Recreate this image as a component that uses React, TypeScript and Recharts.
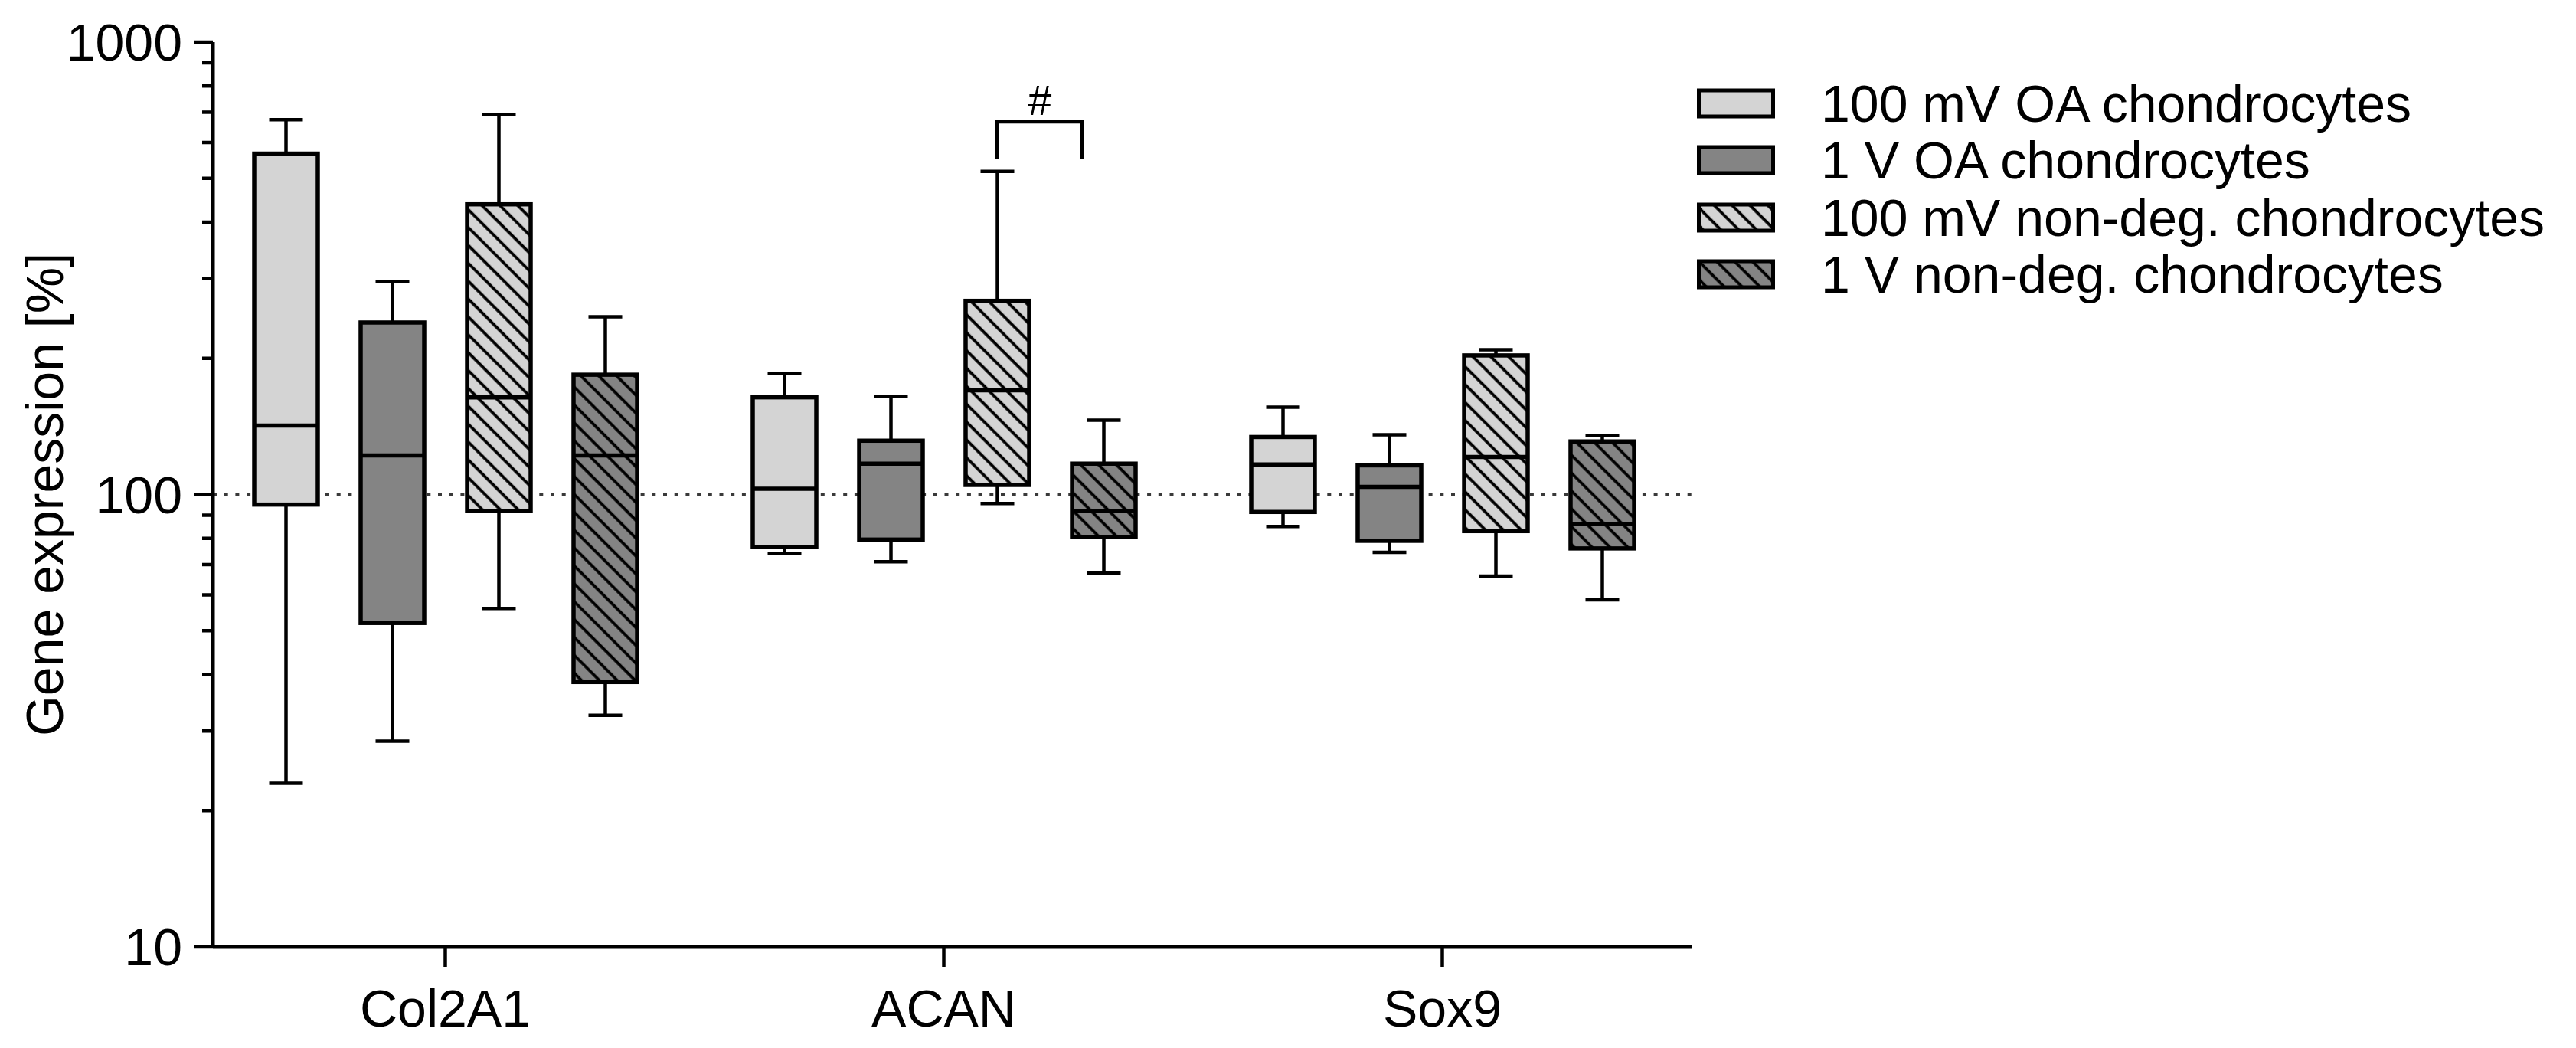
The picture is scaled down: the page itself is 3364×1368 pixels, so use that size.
import { BarChart, Bar, XAxis, YAxis, ReferenceLine } from "recharts";

// five-number summaries per gene: [min, Q1, median, Q3, max]
const categories = ["Col2A1", "ACAN", "Sox9"];

const oa100mV = [
  [23, 95, 142, 567, 674],
  [74, 76.5, 103, 164, 185],
  [85, 91.5, 116.5, 134, 156],
];
const oa1V = [
  [28.5, 52, 122, 240, 296],
  [71, 79.5, 117, 131.5, 164.5],
  [74.5, 79, 104, 116, 135.5],
];
const nonDeg100mV = [
  [56, 92, 164, 438, 692],
  [95.5, 105, 170, 268, 518],
  [66, 83, 121, 203, 209],
];
const nonDeg1V = [
  [32.5, 38.5, 122, 184, 247],
  [67, 80.5, 92, 117, 146],
  [58.5, 76, 86, 131, 135],
];

const seriesNames = [
  "100 mV OA chondrocytes",
  "1 V OA chondrocytes",
  "100 mV non-deg. chondrocytes",
  "1 V non-deg. chondrocytes",
];

const yTicks = [10, 20, 30, 40, 50, 60, 70, 80, 90, 100, 200, 300, 400, 500, 600, 700, 800, 900, 1000];
const yMajor = [10, 100, 1000];

// significance bracket: between series `from` and `to` in one category
const brackets = [{ category: "ACAN", from: 2, to: 3, top: 667, legBottom: 553, label: "#" }];

const LIGHT = "#d4d4d4";
const DARK = "#848484";
const styles = [
  { fill: LIGHT, hatch: false },
  { fill: DARK, hatch: false },
  { fill: LIGHT, hatch: true },
  { fill: DARK, hatch: true },
];

const FONT = '"Liberation Sans", Arial, sans-serif';
const BAR_SIZE = 83;
const BAR_GAP = 56;

const rows = categories.map((category, i) => ({
  category,
  stats: [oa100mV[i], oa1V[i], nonDeg100mV[i], nonDeg1V[i]],
}));

function HatchDef({ id, bg }: { id: string; bg: string }) {
  return (
    <defs>
      <pattern id={id} patternUnits="userSpaceOnUse" width={16.5} height={16.5} patternTransform="rotate(-45)">
        <rect width={16.5} height={16.5} fill={bg} />
        <line x1={8} y1={-1} x2={8} y2={17.5} stroke="#000" strokeWidth={3.8} />
      </pattern>
    </defs>
  );
}

function BoxShape(props: any) {
  const { x, y, width, height, payload, index, seriesIndex } = props;
  const s = payload.stats[seriesIndex];
  const lo = Math.log10(s[0]);
  const hi = Math.log10(s[4]);
  // bar spans min..max on the log axis; map other values the same way
  const toPx = (v: number) => y + ((hi - Math.log10(v)) / (hi - lo)) * height;
  const cx = x + width / 2;
  const capHalf = 22;
  const st = styles[seriesIndex];
  const pid = `hatch-${seriesIndex}-${index}`;
  const q1 = toPx(s[1]);
  const med = toPx(s[2]);
  const q3 = toPx(s[3]);
  const yMin = toPx(s[0]);
  const yMax = toPx(s[4]);

  const br = brackets.find((b) => b.category === payload.category && b.from === seriesIndex);
  let bracket = null;
  if (br) {
    const x1 = cx;
    const x2 = cx + (br.to - br.from) * (BAR_SIZE + BAR_GAP) - 28;
    const yt = toPx(br.top);
    const yb = toPx(br.legBottom);
    bracket = (
      <g>
        <path d={`M${x1},${yb} L${x1},${yt} L${x2},${yt} L${x2},${yb}`} fill="none" stroke="#000" strokeWidth={5} />
        <text x={(x1 + x2) / 2} y={yt - 9} textAnchor="middle" fontSize={55} fontFamily={FONT} fill="#000">
          {br.label}
        </text>
      </g>
    );
  }

  return (
    <g>
      {st.hatch && <HatchDef id={pid} bg={st.fill} />}
      <line x1={cx} x2={cx} y1={yMax} y2={q3} stroke="#000" strokeWidth={4.5} />
      <line x1={cx - capHalf} x2={cx + capHalf} y1={yMax} y2={yMax} stroke="#000" strokeWidth={4.5} />
      <line x1={cx} x2={cx} y1={q1} y2={yMin} stroke="#000" strokeWidth={4.5} />
      <line x1={cx - capHalf} x2={cx + capHalf} y1={yMin} y2={yMin} stroke="#000" strokeWidth={4.5} />
      <rect
        x={x}
        y={q3}
        width={width}
        height={q1 - q3}
        fill={st.hatch ? `url(#${pid})` : st.fill}
        stroke="#000"
        strokeWidth={5.5}
      />
      <line x1={x} x2={x + width} y1={med} y2={med} stroke="#000" strokeWidth={5.5} />
      {bracket}
    </g>
  );
}

function YTick(props: any) {
  const { x, y, payload } = props;
  const major = yMajor.includes(payload.value);
  return (
    <g>
      <line x1={x - (major ? 25 : 14)} x2={x} y1={y} y2={y} stroke="#000" strokeWidth={4.5} />
      {major && (
        <text x={x - 40} y={y} dy="0.36em" textAnchor="end" fontSize={68} fontFamily={FONT} fill="#000">
          {payload.value}
        </text>
      )}
    </g>
  );
}

function XTick(props: any) {
  const { x, y, payload } = props;
  return (
    <g>
      <line x1={x} x2={x} y1={y} y2={y + 26} stroke="#000" strokeWidth={4.5} />
      <text x={x} y={y + 104} textAnchor="middle" fontSize={68} fontFamily={FONT} fill="#000">
        {payload.value}
      </text>
    </g>
  );
}

function YLabel(props: any) {
  const { viewBox } = props;
  const cy = viewBox.y + viewBox.height / 2;
  return (
    <text
      x={82}
      y={cy}
      transform={`rotate(-90, 82, ${cy})`}
      textAnchor="middle"
      fontSize={68}
      fontFamily={FONT}
      fill="#000"
    >
      Gene expression [%]
    </text>
  );
}

function Legend() {
  const rowsY = [135, 209, 284, 358];
  return (
    <svg width={1148} height={420} style={{ position: "absolute", left: 2216, top: 0 }}>
      {seriesNames.map((name, i) => {
        const st = styles[i];
        const pid = `legend-hatch-${i}`;
        return (
          <g key={name}>
            {st.hatch && <HatchDef id={pid} bg={st.fill} />}
            <rect
              x={2.5}
              y={rowsY[i] - 17}
              width={97}
              height={34}
              fill={st.hatch ? `url(#${pid})` : st.fill}
              stroke="#000"
              strokeWidth={5}
            />
            <text x={162} y={rowsY[i]} dy="0.36em" fontSize={68} fontFamily={FONT} fill="#000">
              {name}
            </text>
          </g>
        );
      })}
    </svg>
  );
}

export default function App() {
  return (
    <div style={{ position: "absolute", left: 0, top: 0, width: 3364, height: 1368, background: "#fff" }}>
      <BarChart
        width={3364}
        height={1368}
        data={rows}
        margin={{ top: 55, right: 1155, left: 0, bottom: 0 }}
        barGap={BAR_GAP}
      >
        <ReferenceLine y={100} stroke="#3a3a3a" strokeWidth={5} strokeDasharray="5 9.7" zIndex={100} />
        <XAxis
          dataKey="category"
          height={132}
          padding={{ left: -22, right: 0 }}
          interval={0}
          tickLine={false}
          tickSize={0}
          tickMargin={0}
          axisLine={{ stroke: "#000", strokeWidth: 5 }}
          tick={<XTick />}
        />
        <YAxis
          type="number"
          scale="log"
          domain={[10, 1000]}
          allowDataOverflow
          ticks={yTicks}
          interval={0}
          width={278}
          tickLine={false}
          tickSize={0}
          tickMargin={0}
          axisLine={{ stroke: "#000", strokeWidth: 5 }}
          tick={<YTick />}
          label={<YLabel />}
        />
        {seriesNames.map((name, k) => (
          <Bar
            key={name}
            name={name}
            dataKey={(d: any) => [d.stats[k][0], d.stats[k][4]]}
            barSize={BAR_SIZE}
            isAnimationActive={false}
            shape={(p: any) => <BoxShape {...p} seriesIndex={k} />}
          />
        ))}
      </BarChart>
      <Legend />
    </div>
  );
}
